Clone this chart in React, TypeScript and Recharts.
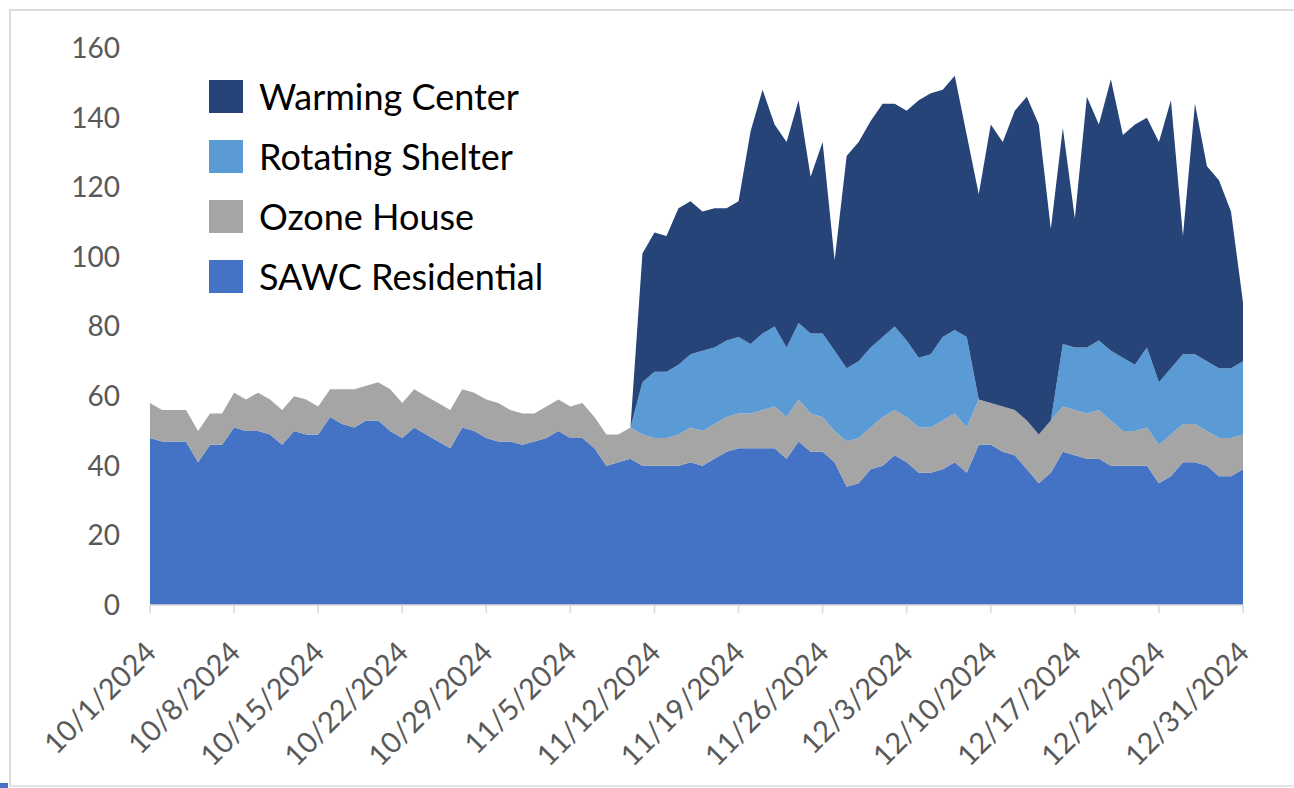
import React from "react";
import { AreaChart, Area, XAxis, YAxis } from "recharts";

// Daily categories 10/1/2024 .. 12/31/2024
const dates: string[] = [];
for (let i = 0; i < 92; i++) {
  const d = new Date(2024, 9, 1 + i);
  dates.push(`${d.getMonth() + 1}/${d.getDate()}/${d.getFullYear()}`);
}

const sawcResidential = [
  48, 47, 47, 47, 41, 46, 46, 51, 50, 50,
  49, 46, 50, 49, 49, 54, 52, 51, 53, 53,
  50, 48, 51, 49, 47, 45, 51, 50, 48, 47,
  47, 46, 47, 48, 50, 48, 48, 45, 40, 41,
  42, 40, 40, 40, 40, 41, 40, 42, 44, 45,
  45, 45, 45, 42, 47, 44, 44, 41, 34, 35,
  39, 40, 43, 41, 38, 38, 39, 41, 38, 46,
  46, 44, 43, 39, 35, 38, 44, 43, 42, 42,
  40, 40, 40, 40, 35, 37, 41, 41, 40, 37,
  37, 39,
];

const ozoneHouse = [
  10, 9, 9, 9, 9, 9, 9, 10, 9, 11,
  10, 10, 10, 10, 8, 8, 10, 11, 10, 11,
  12, 10, 11, 11, 11, 11, 11, 11, 11, 11,
  9, 9, 8, 9, 9, 9, 10, 9, 9, 8,
  9, 9, 8, 8, 9, 10, 10, 10, 10, 10,
  10, 11, 12, 12, 12, 11, 10, 9, 13, 13,
  12, 14, 13, 13, 13, 13, 14, 14, 13, 13,
  12, 13, 13, 14, 14, 15, 13, 13, 13, 14,
  13, 10, 10, 11, 11, 12, 11, 11, 10, 11,
  11, 10,
];

const rotatingShelter = [
  0, 0, 0, 0, 0, 0, 0, 0, 0, 0,
  0, 0, 0, 0, 0, 0, 0, 0, 0, 0,
  0, 0, 0, 0, 0, 0, 0, 0, 0, 0,
  0, 0, 0, 0, 0, 0, 0, 0, 0, 0,
  0, 15, 19, 19, 20, 21, 23, 22, 22, 22,
  20, 22, 23, 20, 22, 23, 24, 23, 21, 22,
  23, 23, 24, 22, 20, 21, 24, 24, 26, 0,
  0, 0, 0, 0, 0, 0, 18, 18, 19, 20,
  20, 21, 19, 23, 18, 19, 20, 20, 20, 20,
  20, 21,
];

const warmingCenter = [
  0, 0, 0, 0, 0, 0, 0, 0, 0, 0,
  0, 0, 0, 0, 0, 0, 0, 0, 0, 0,
  0, 0, 0, 0, 0, 0, 0, 0, 0, 0,
  0, 0, 0, 0, 0, 0, 0, 0, 0, 0,
  0, 37, 40, 39, 45, 44, 40, 40, 38, 39,
  61, 70, 58, 59, 64, 45, 55, 26, 61, 63,
  65, 67, 64, 66, 74, 75, 71, 73, 58, 59,
  80, 76, 86, 93, 89, 55, 62, 37, 72, 62,
  78, 64, 69, 66, 69, 77, 34, 72, 56, 54,
  45, 17,
];

const yTicks = [0, 20, 40, 60, 80, 100, 120, 140, 160];

const series = [
  { key: "warming", name: "Warming Center", color: "#264478" },
  { key: "rotating", name: "Rotating Shelter", color: "#5B9BD5" },
  { key: "ozone", name: "Ozone House", color: "#A5A5A5" },
  { key: "sawc", name: "SAWC Residential", color: "#4472C4" },
];

const data = dates.map((date, i) => ({
  date,
  sawc: sawcResidential[i],
  ozone: ozoneHouse[i],
  rotating: rotatingShelter[i],
  warming: warmingCenter[i],
}));

const FONT = "Lato, 'Open Sans', sans-serif";

const XTick = (props: any) => {
  const { x, payload } = props;
  return (
    <g transform={`translate(${x + 8},${654})`}>
      <text
        x={0}
        y={0}
        textAnchor="end"
        transform="rotate(-45)"
        fill="#595959"
        fontSize={29}
        fontFamily={FONT}
      >
        {payload.value}
      </text>
    </g>
  );
};

export default function App() {
  return (
    <div
      style={{
        position: "absolute",
        left: 0,
        top: 0,
        width: 1294,
        height: 788,
        background: "#fff",
        overflow: "hidden",
      }}
    >
      <div
        style={{
          position: "absolute",
          left: 9,
          top: 9,
          right: -4,
          bottom: 1,
          borderLeft: "2px solid #dcdcdc",
          borderTop: "2px solid #dcdcdc",
          borderBottom: "2px solid #e4e4e4",
        }}
      />
      <div
        style={{
          position: "absolute",
          left: 0,
          top: 783,
          width: 8,
          height: 5,
          background: "#4472C4",
        }}
      />
      <div style={{ position: "absolute", left: 0, top: 0 }}>
        <AreaChart
          width={1294}
          height={788}
          data={data}
          margin={{ top: 48, right: 51, left: 70, bottom: 0 }}
        >
          <XAxis
            dataKey="date"
            interval={6}
            height={183}
            tickSize={8}
            axisLine={{ stroke: "#D9D9D9", strokeWidth: 1.5 }}
            tickLine={{ stroke: "#D9D9D9", strokeWidth: 1.5 }}
            tick={<XTick />}
          />
          <YAxis
            width={80}
            domain={[0, 160]}
            ticks={yTicks}
            axisLine={false}
            tickLine={false}
            tickSize={0}
            tickMargin={30}
            tick={{ fill: "#595959", fontSize: 28, fontFamily: FONT }}
          />
          <Area
            type="linear"
            dataKey="sawc"
            name="SAWC Residential"
            stackId="1"
            stroke="none"
            fill="#4472C4"
            fillOpacity={1}
            isAnimationActive={false}
          />
          <Area
            type="linear"
            dataKey="ozone"
            name="Ozone House"
            stackId="1"
            stroke="none"
            fill="#A5A5A5"
            fillOpacity={1}
            isAnimationActive={false}
          />
          <Area
            type="linear"
            dataKey="rotating"
            name="Rotating Shelter"
            stackId="1"
            stroke="none"
            fill="#5B9BD5"
            fillOpacity={1}
            isAnimationActive={false}
          />
          <Area
            type="linear"
            dataKey="warming"
            name="Warming Center"
            stackId="1"
            stroke="none"
            fill="#264478"
            fillOpacity={1}
            isAnimationActive={false}
          />
        </AreaChart>
      </div>
      <div
        style={{
          position: "absolute",
          left: 209,
          top: 66,
          fontFamily: FONT,
        }}
      >
        {series.map((s) => (
          <div
            key={s.key}
            style={{ display: "flex", alignItems: "center", height: 60 }}
          >
            <div style={{ width: 34, height: 33, background: s.color }} />
            <span
              style={{
                marginLeft: 16,
                fontSize: 36,
                color: "#000",
                lineHeight: "60px",
                whiteSpace: "nowrap",
              }}
            >
              {s.name}
            </span>
          </div>
        ))}
      </div>
    </div>
  );
}
